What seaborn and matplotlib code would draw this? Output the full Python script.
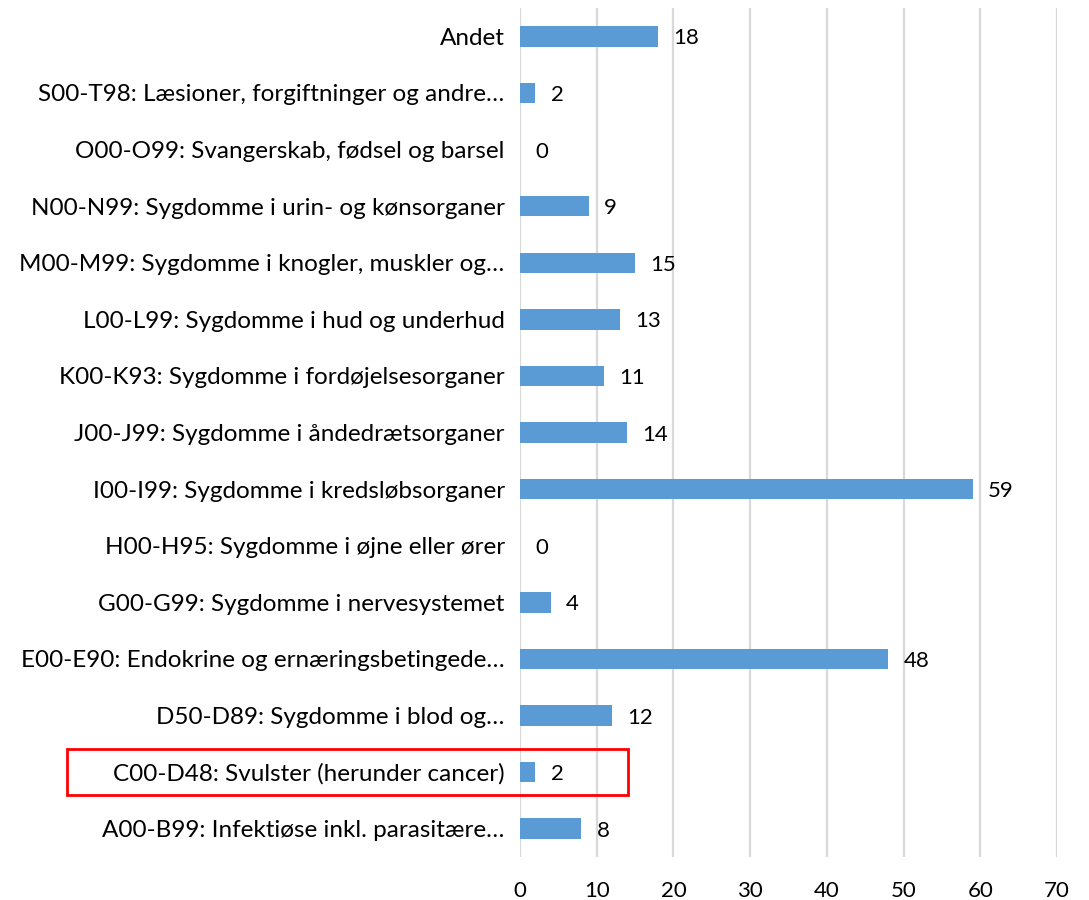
import matplotlib
matplotlib.use("Agg")
import matplotlib.pyplot as plt
import matplotlib.transforms as mtransforms
from matplotlib.patches import Rectangle
import seaborn as sns
import pandas as pd

categories = [
    "Andet",
    "S00-T98: Læsioner, forgiftninger og andre…",
    "O00-O99: Svangerskab, fødsel og barsel",
    "N00-N99: Sygdomme i urin- og kønsorganer",
    "M00-M99: Sygdomme i knogler, muskler og…",
    "L00-L99: Sygdomme i hud og underhud",
    "K00-K93: Sygdomme i fordøjelsesorganer",
    "J00-J99: Sygdomme i åndedrætsorganer",
    "I00-I99: Sygdomme i kredsløbsorganer",
    "H00-H95: Sygdomme i øjne eller ører",
    "G00-G99: Sygdomme i nervesystemet",
    "E00-E90: Endokrine og ernæringsbetingede…",
    "D50-D89: Sygdomme i blod og…",
    "C00-D48: Svulster (herunder cancer)",
    "A00-B99: Infektiøse inkl. parasitære…",
]
values = [18, 2, 0, 9, 15, 13, 11, 14, 59, 0, 4, 48, 12, 2, 8]
highlight = "C00-D48: Svulster (herunder cancer)"
xticks = [0, 10, 20, 30, 40, 50, 60, 70]

df = pd.DataFrame({"category": categories, "value": values})

sns.set_theme(style="white")
plt.rcParams["font.family"] = ["Lato", "DejaVu Sans"]

fig = plt.figure(figsize=(10.89, 9.0), dpi=100)
ax = fig.add_axes([0.4775, 0.0478, 0.4931, 0.9432])

sns.barplot(data=df, x="value", y="category", orient="h", color="#5B9BD5",
            width=0.36, ax=ax, saturation=1, linewidth=0)

ax.set_xlim(0, 70)
ax.set_xticks(xticks)
ax.set_xticklabels([str(t) for t in xticks], fontsize=16, color="#000000")
ax.tick_params(axis="x", length=0, pad=17)
ax.tick_params(axis="y", length=0, pad=11, labelsize=17.5, labelcolor="#000000")
ax.set_xlabel("")
ax.set_ylabel("")
for s in ax.spines.values():
    s.set_visible(False)
ax.grid(axis="x", color="#D9D9D9", linewidth=1.6)
ax.set_axisbelow(True)

for c in ax.containers:
    texts = ax.bar_label(c, labels=[str(v) for v in values], padding=11,
                         fontsize=16, color="#000000")
    for t in texts:
        t.set_verticalalignment("center_baseline")

# highlight box around the chosen category
idx = categories.index(highlight)
trans = mtransforms.blended_transform_factory(ax.transAxes, ax.transData)
rect = Rectangle((-0.8436, idx - 0.4), 1.045, 0.8, transform=trans,
                 fill=False, edgecolor="#FF0000", linewidth=2, clip_on=False)
ax.add_patch(rect)

fig.savefig("out.png", dpi=100)
